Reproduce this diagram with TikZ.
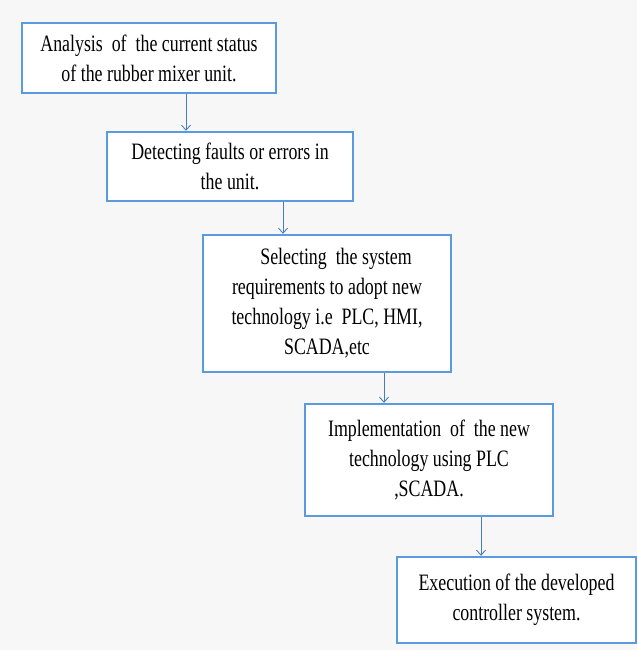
\documentclass[tikz,border=0pt]{standalone}
\usepackage{fontspec}
\setmainfont{Liberation Serif}[FakeStretch=0.76]
\usetikzlibrary{arrows.meta}
\definecolor{boxline}{RGB}{90,155,224}
\definecolor{flowline}{RGB}{74,126,187}

\begin{document}
\begin{tikzpicture}[x=1pt, y=-1pt,
  stepbox/.style = {draw=boxline, line width=2.4pt, fill=white, align=center, inner sep=0pt,
                    font=\fontsize{23.5}{30}\selectfont},
  flow/.style = {draw=flowline, line width=0.9pt, -{Straight Barb[length=5pt,width=9pt]}}]
\fill[black!3] (0,0) rectangle (637,650);
\useasboundingbox (0,0) rectangle (637,650);
\node[stepbox, minimum width=254pt, minimum height=70pt](b1) at (149,58)
  {Analysis \ of \ the current status\\of the rubber mixer unit.};
\node[stepbox, minimum width=246pt, minimum height=69pt](b2) at (230,166.5)
  {Detecting faults or errors in\\the unit.};
\node[stepbox, minimum width=248pt, minimum height=137pt](b3) at (327,303.5)
  {\hspace*{18pt}Selecting \ the system\\requirements to adopt new\\technology i.e \ PLC, HMI,\\SCADA,etc};
\node[stepbox, minimum width=248pt, minimum height=112pt](b4) at (429,460)
  {Implementation \ of \ the new\\technology using PLC\\,SCADA.};
\node[stepbox, minimum width=239pt, minimum height=86pt](b5) at (516.5,600)
  {Execution of the developed\\controller system.};
\draw[flow] ([xshift=37pt]b1.south) -- ([xshift=37pt]b1.south |- b2.north);
\draw[flow] ([xshift=53pt]b2.south) -- ([xshift=53pt]b2.south |- b3.north);
\draw[flow] ([xshift=57pt]b3.south) -- ([xshift=57pt]b3.south |- b4.north);
\draw[flow] ([xshift=52pt]b4.south) -- ([xshift=52pt]b4.south |- b5.north);
\end{tikzpicture}
\end{document}
